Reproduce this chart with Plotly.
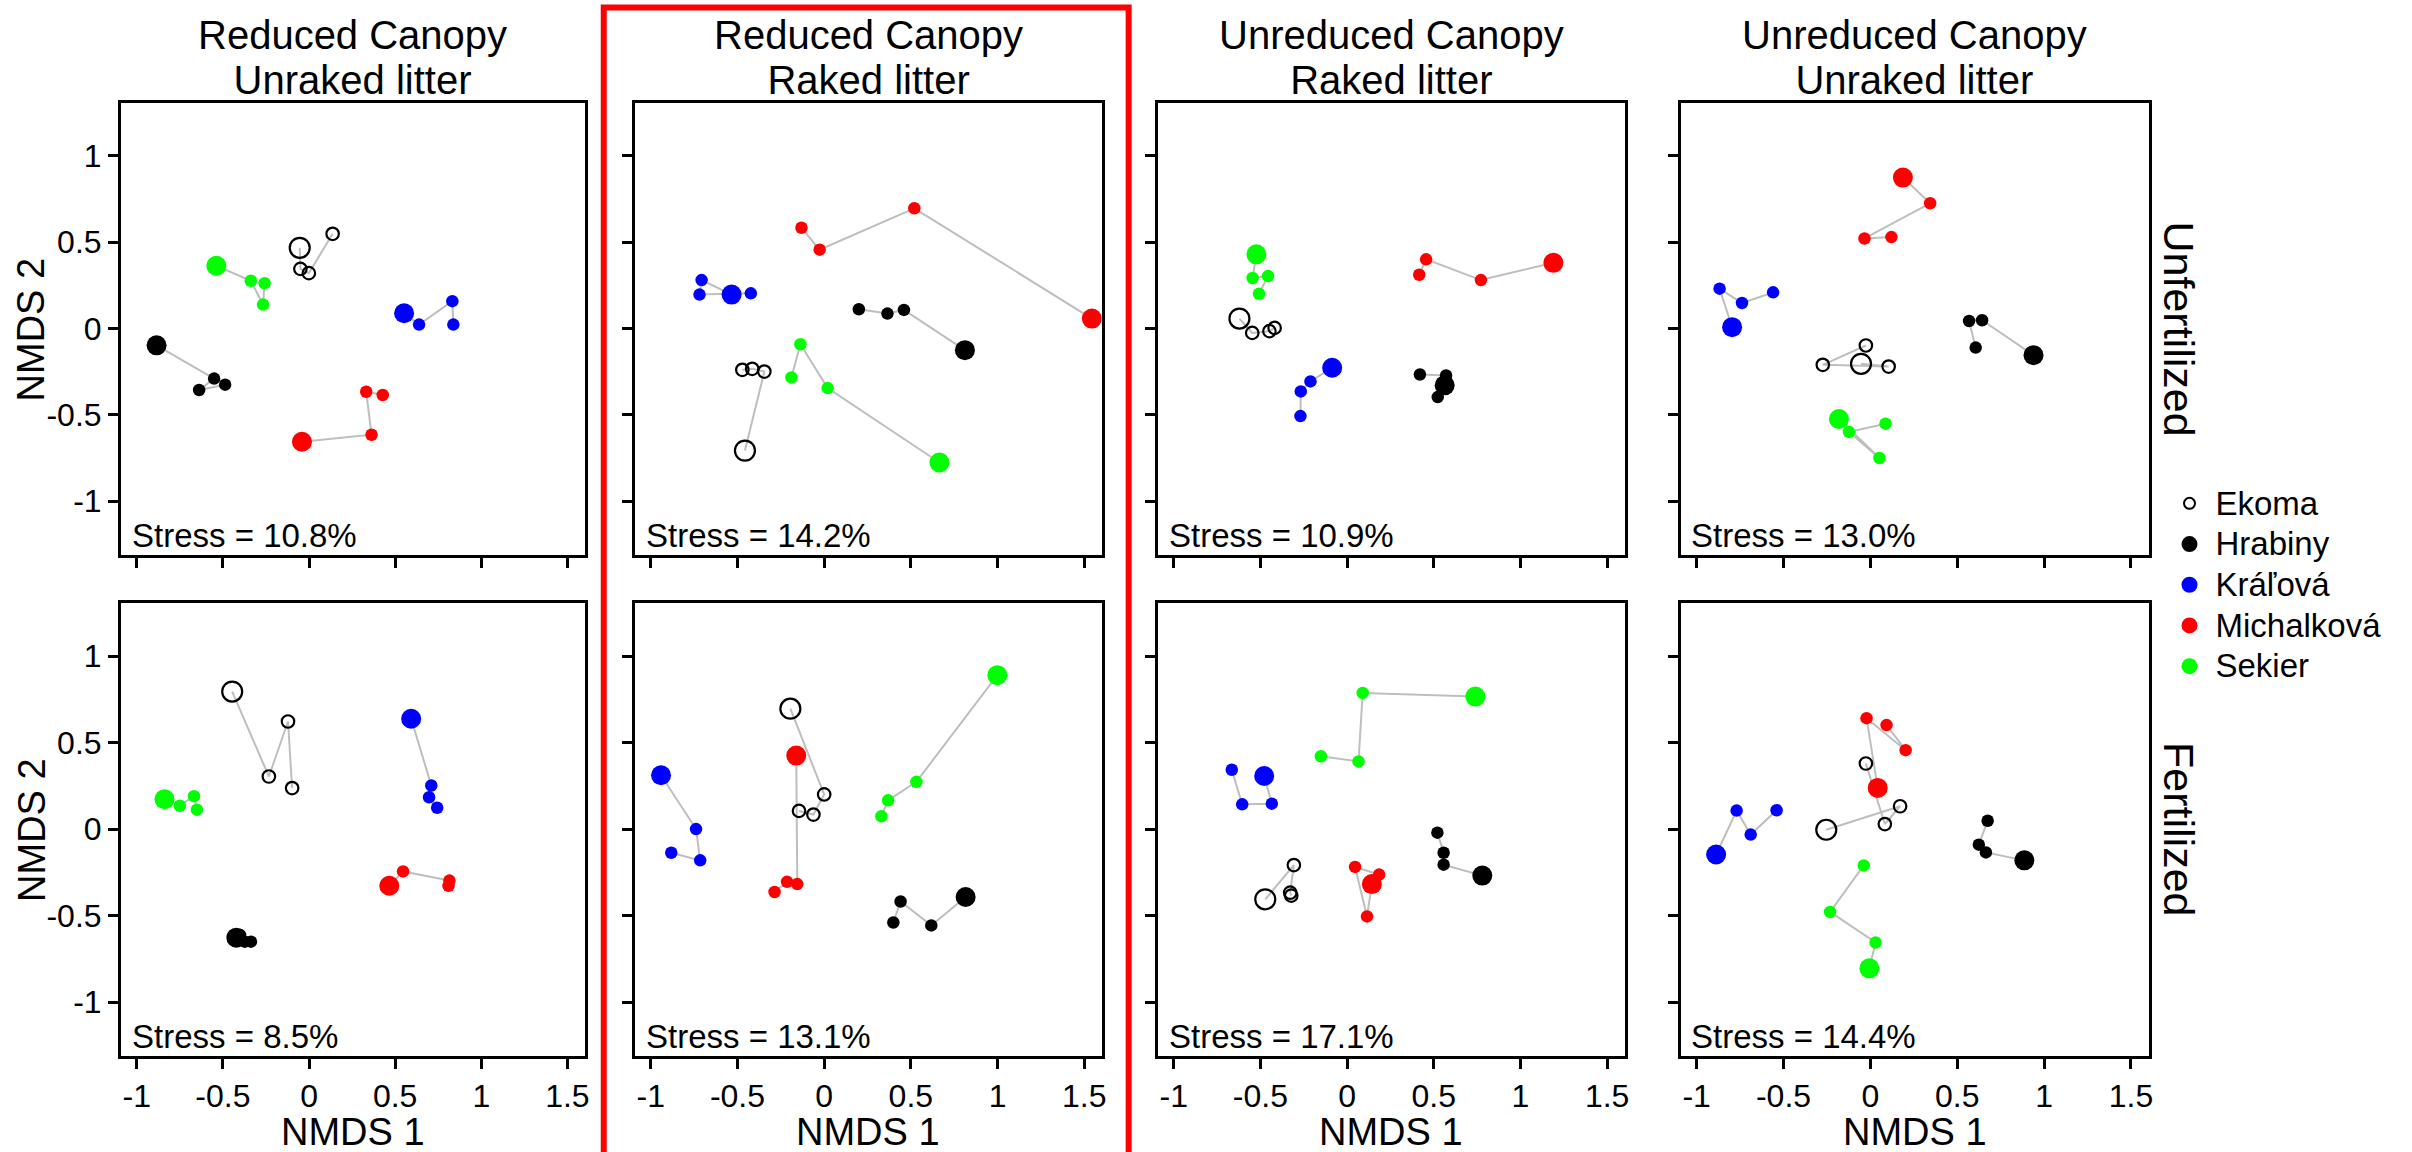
import plotly.graph_objects as go

# ---------------- data ----------------
sites = ["Ekoma", "Hrabiny", "Kráľová", "Michalková", "Sekier"]
site_colors = ["black", "black", "#0000FF", "#FF0000", "#00FF00"]
site_open = [True, False, False, False, False]

title_line1 = ["Reduced Canopy", "Reduced Canopy", "Unreduced Canopy", "Unreduced Canopy"]
title_line2 = ["Unraked litter", "Raked litter", "Raked litter", "Unraked litter"]
row_labels = ["Unfertilized", "Fertilized"]
stress_unfertilized = ["10.8%", "14.2%", "10.9%", "13.0%"]
stress_fertilized = ["8.5%", "13.1%", "17.1%", "14.4%"]

x_tickvals = [-1, -0.5, 0, 0.5, 1, 1.5]
x_ticktext = ["-1", "-0.5", "0", "0.5", "1", "1.5"]
y_tickvals = [-1, -0.5, 0, 0.5, 1]
y_ticktext = ["-1", "-0.5", "0", "0.5", "1"]

# point order per site: three sampling points then the final (large) point
# Panel 1: Reduced canopy / Unraked litter / Unfertilized
x_p1 = [[0.137, -0.001, -0.050, -0.054], [-0.487, -0.638, -0.551, -0.885], [0.838, 0.832, 0.639, 0.552],
        [0.428, 0.332, 0.363, -0.041], [-0.258, -0.267, -0.338, -0.538]]
y_p1 = [[0.549, 0.321, 0.346, 0.468], [-0.325, -0.356, -0.290, -0.097], [0.023, 0.159, 0.023, 0.089],
        [-0.385, -0.366, -0.615, -0.656], [0.263, 0.139, 0.277, 0.364]]
# Panel 2: Reduced canopy / Raked litter / Unfertilized
x_p2 = [[-0.472, -0.415, -0.345, -0.457], [0.200, 0.365, 0.460, 0.812], [-0.423, -0.719, -0.707, -0.534],
        [-0.131, -0.026, 0.520, 1.544], [-0.189, -0.137, 0.020, 0.665]]
y_p2 = [[-0.239, -0.233, -0.249, -0.707], [0.112, 0.087, 0.108, -0.125], [0.204, 0.197, 0.281, 0.197],
        [0.584, 0.457, 0.697, 0.058], [-0.283, -0.091, -0.345, -0.776]]
# Panel 3: Unreduced canopy / Raked litter / Unfertilized
x_p3 = [[-0.418, -0.448, -0.547, -0.621], [0.420, 0.571, 0.523, 0.563], [-0.269, -0.267, -0.211, -0.086],
        [0.416, 0.456, 0.772, 1.190], [-0.508, -0.456, -0.545, -0.523]]
y_p3 = [[0.004, -0.015, -0.025, 0.058], [-0.266, -0.272, -0.397, -0.329], [-0.507, -0.364, -0.306, -0.227],
        [0.312, 0.401, 0.281, 0.381], [0.202, 0.304, 0.293, 0.430]]
# Panel 4: Unreduced canopy / Unraked litter / Unfertilized
x_p4 = [[-0.026, -0.274, 0.105, -0.054], [0.606, 0.568, 0.643, 0.939], [-0.560, -0.739, -0.868, -0.796],
        [0.121, -0.034, 0.344, 0.187], [0.087, -0.123, 0.052, -0.181]]
y_p4 = [[-0.098, -0.210, -0.220, -0.204], [-0.110, 0.044, 0.048, -0.154], [0.210, 0.148, 0.231, 0.008],
        [0.530, 0.522, 0.726, 0.875], [-0.551, -0.599, -0.750, -0.524]]
# Panel 5: Reduced canopy / Unraked litter / Fertilized
x_p5 = [[-0.098, -0.122, -0.233, -0.446], [-0.337, -0.373, -0.400, -0.422], [0.744, 0.697, 0.710, 0.593],
        [0.810, 0.815, 0.546, 0.466], [-0.651, -0.668, -0.750, -0.839]]
y_p5 = [[0.237, 0.622, 0.304, 0.795], [-0.651, -0.651, -0.613, -0.628], [0.123, 0.184, 0.252, 0.638],
        [-0.328, -0.298, -0.245, -0.328], [0.112, 0.190, 0.135, 0.173]]
# Panel 6: Reduced canopy / Raked litter / Fertilized
x_p6 = [[-0.145, -0.062, 0.000, -0.195], [0.399, 0.441, 0.618, 0.816], [-0.882, -0.715, -0.739, -0.941],
        [-0.286, -0.214, -0.155, -0.161], [0.330, 0.369, 0.532, 0.999]]
y_p6 = [[0.105, 0.084, 0.200, 0.696], [-0.540, -0.419, -0.557, -0.393], [-0.137, -0.181, 0.000, 0.311],
        [-0.364, -0.305, -0.318, 0.425], [0.074, 0.166, 0.273, 0.890]]
# Panel 7: Unreduced canopy / Raked litter / Fertilized
x_p7 = [[-0.322, -0.328, -0.307, -0.472], [0.521, 0.557, 0.557, 0.780], [-0.665, -0.605, -0.434, -0.478],
        [0.185, 0.046, 0.115, 0.143], [-0.151, 0.066, 0.090, 0.740]]
y_p7 = [[-0.385, -0.368, -0.208, -0.406], [-0.021, -0.137, -0.206, -0.269], [0.343, 0.143, 0.147, 0.307],
        [-0.263, -0.219, -0.505, -0.318], [0.421, 0.391, 0.787, 0.766]]
# Panel 8: Unreduced canopy / Unraked litter / Fertilized
x_p8 = [[-0.026, 0.083, 0.171, -0.254], [0.675, 0.624, 0.665, 0.886], [-0.540, -0.689, -0.770, -0.888],
        [0.093, 0.203, -0.022, 0.042], [-0.038, -0.232, 0.030, -0.006]]
y_p8 = [[0.379, 0.029, 0.132, -0.004], [0.048, -0.090, -0.135, -0.181], [0.109, -0.032, 0.107, -0.147],
        [0.601, 0.456, 0.641, 0.238], [-0.210, -0.479, -0.656, -0.805]]

panels_x = [x_p1, x_p2, x_p3, x_p4, x_p5, x_p6, x_p7, x_p8]
panels_y = [y_p1, y_p2, y_p3, y_p4, y_p5, y_p6, y_p7, y_p8]
stress_all = stress_unfertilized + stress_fertilized

# ---------------- layout ----------------
W, H = 2412, 1152
FONT = "Arial, 'Liberation Sans', sans-serif"
col_px = [(121, 586), (636, 1104), (1160, 1628), (1684, 2153)]
row_px = [(103, 555), (603, 1056)]
XR = [-1.093, 1.601]
YR = [-1.312, 1.307]


def px(x):
    return x / W


def py(y):
    return 1 - y / H


fig = go.Figure()
layout = dict(width=W, height=H, margin=dict(l=0, r=0, t=0, b=0), autosize=False,
              paper_bgcolor="white", plot_bgcolor="white",
              font=dict(family=FONT, color="black"))
annotations = []

for p in range(8):
    r, c = divmod(p, 4)
    i = p + 1
    xa = "x" if i == 1 else f"x{i}"
    ya = "y" if i == 1 else f"y{i}"
    xkey = "xaxis" if i == 1 else f"xaxis{i}"
    ykey = "yaxis" if i == 1 else f"yaxis{i}"
    x0, x1 = col_px[c]
    y0, y1 = row_px[r]
    common = dict(showgrid=False, zeroline=False, showline=True, mirror=True,
                  linecolor="black", linewidth=2.5, ticks="outside", ticklen=10,
                  tickwidth=2.5, tickcolor="black", tickfont=dict(size=32, family=FONT, color="black"),
                  fixedrange=True)
    layout[xkey] = dict(common, domain=[px(x0), px(x1)], range=XR, anchor=ya,
                        tickvals=x_tickvals, ticktext=x_ticktext, showticklabels=(r == 1))
    layout[ykey] = dict(common, domain=[py(y1), py(y0)], range=YR, anchor=xa,
                        tickvals=y_tickvals, ticktext=y_ticktext, showticklabels=(c == 0))

    xs, ys = panels_x[p], panels_y[p]
    # connecting lines first
    for s in range(5):
        fig.add_trace(go.Scatter(x=xs[s], y=ys[s], mode="lines", xaxis=xa, yaxis=ya,
                                 line=dict(color="#BEBEBE", width=2), showlegend=False,
                                 hoverinfo="skip"))
    # points
    for s in range(5):
        n = len(xs[s])
        sizes = [12.5] * (n - 1) + [20]
        if site_open[s]:
            marker = dict(symbol="circle-open", size=sizes, color="black", opacity=1,
                          line=dict(width=2.2, color="black"))
        else:
            marker = dict(symbol="circle", size=sizes, color=site_colors[s], opacity=1,
                          line=dict(width=0))
        fig.add_trace(go.Scatter(x=xs[s], y=ys[s], mode="markers", xaxis=xa, yaxis=ya,
                                 marker=marker, showlegend=False, name=sites[s]))

    # stress text
    annotations.append(dict(text="Stress = " + stress_all[p], x=px(x0 + 9), y=py(y1 - 20),
                            xref="paper", yref="paper", xanchor="left", yanchor="middle",
                            showarrow=False, font=dict(size=33, family=FONT, color="black")))

# column titles (two lines in one text)
for c in range(4):
    cx = (col_px[c][0] + col_px[c][1]) / 2
    ttl = ("<span style='font-size:40px'>" + title_line1[c] + "</span><br>"
           "<span style='font-size:40px'>" + title_line2[c] + "</span>")
    annotations.append(dict(text=ttl, x=px(cx), y=py(58), xref="paper", yref="paper",
                            xanchor="center", yanchor="middle", showarrow=False,
                            font=dict(size=34.8, family=FONT, color="black")))
    annotations.append(dict(text="NMDS 1", x=px(cx), y=py(1132), xref="paper", yref="paper",
                            xanchor="center", yanchor="middle", showarrow=False,
                            font=dict(size=38, family=FONT, color="black")))

# row labels and y-axis titles
for r in range(2):
    cy = (row_px[r][0] + row_px[r][1]) / 2
    annotations.append(dict(text="NMDS 2", x=px(31.5), y=py(cy), xref="paper", yref="paper",
                            xanchor="center", yanchor="middle", textangle=-90, showarrow=False,
                            font=dict(size=38, family=FONT, color="black")))
    annotations.append(dict(text=row_labels[r], x=px(2184), y=py(cy), xref="paper", yref="paper",
                            xanchor="center", yanchor="middle", textangle=90, showarrow=False,
                            font=dict(size=43, family=FONT, color="black")))

# legend entries
for s in range(5):
    if site_open[s]:
        marker = dict(symbol="circle-open", size=11, color="black", line=dict(width=2, color="black"))
    else:
        marker = dict(symbol="circle", size=16, color=site_colors[s])
    fig.add_trace(go.Scatter(x=[None], y=[None], mode="markers", marker=marker,
                             name="<span style='font-size:33px'>" + sites[s] + "</span>",
                             showlegend=True, xaxis="x", yaxis="y"))

layout["legend"] = dict(x=px(2168), y=py(478), xanchor="left", yanchor="top",
                        bgcolor="rgba(0,0,0,0)", borderwidth=0, itemsizing="trace",
                        font=dict(size=29, family=FONT, color="black"), tracegroupgap=0,
                        itemwidth=42)
layout["showlegend"] = True
layout["annotations"] = annotations

# red highlight frame around the second column
layout["shapes"] = [dict(type="rect", xref="paper", yref="paper",
                         x0=px(605), x1=px(1131), y0=py(1165), y1=py(7.5),
                         line=dict(color="#FF0000", width=6), fillcolor="rgba(0,0,0,0)")]

fig.update_layout(**layout)
fig.write_html("out.html")
